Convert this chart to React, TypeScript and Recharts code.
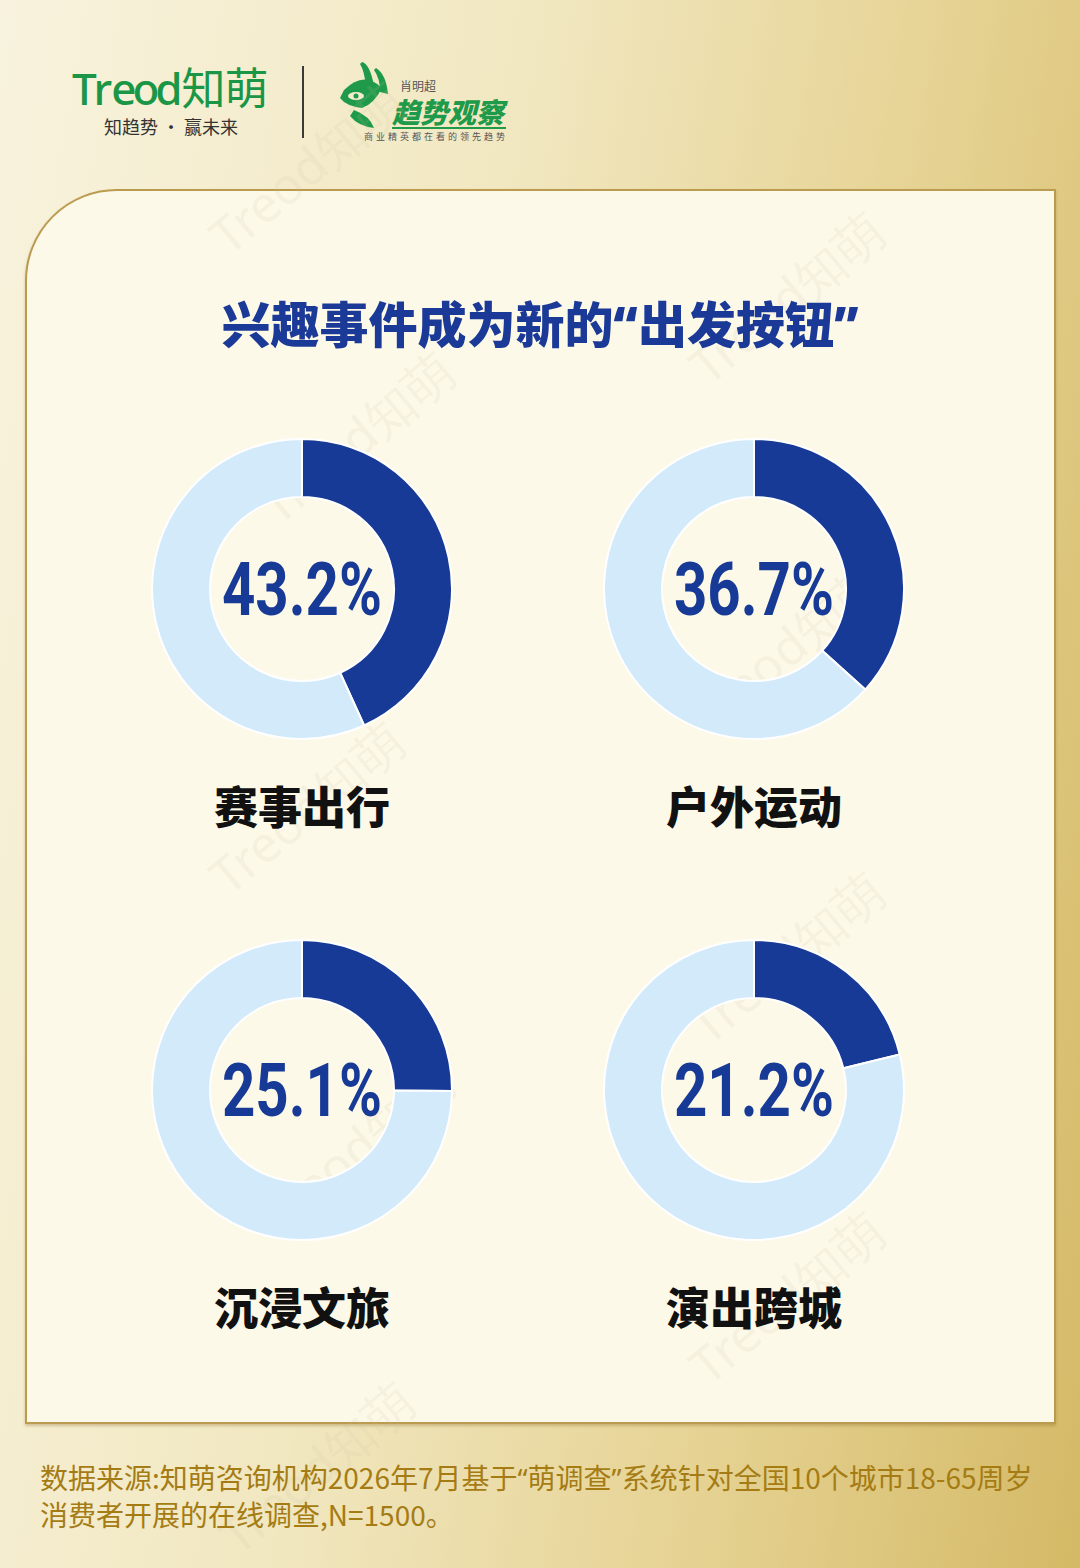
import React from "react"
import { PieChart, Pie, Cell, Label } from "recharts"

// data
const categories = ["赛事出行", "户外运动", "沉浸文旅", "演出跨城"]
const shares = [43.2, 36.7, 25.1, 21.2]
const sliceNames = ["选择", "其他"]

const titleParts = ["兴趣事件成为新的", "出发按钮"]
const sourceLines = [
  ["数据来源:知萌咨询机构2026年7月基于", "萌调查", "系统针对全国10个城市18-65周岁"],
  ["消费者开展的在线调查,N=1500。"],
]

const DARK = "#173a97"
const LIGHT = "#d3eafb"
const CJK = "'Noto Sans CJK SC', 'Noto Sans', sans-serif"
const LATIN = "'Noto Sans', 'DejaVu Sans', sans-serif"

const centers = [
  { x: 302, y: 589 },
  { x: 754, y: 589 },
  { x: 302, y: 1090 },
  { x: 754, y: 1090 },
]

const watermarks = [
  { x: 240, y: 200 },
  { x: 720, y: 330 },
  { x: 290, y: 470 },
  { x: 720, y: 680 },
  { x: 240, y: 840 },
  { x: 720, y: 990 },
  { x: 290, y: 1180 },
  { x: 720, y: 1330 },
  { x: 250, y: 1500 },
]

function Donut({ name, value, cx, cy }: { name: string; value: number; cx: number; cy: number }) {
  const size = 320
  const data = [
    { name: sliceNames[0], value },
    { name: sliceNames[1], value: 100 - value },
  ]
  return (
    <>
      <div style={{ position: "absolute", left: cx - size / 2, top: cy - size / 2, width: size, height: size }}>
        <PieChart width={size} height={size}>
          <Pie
            data={data}
            dataKey="value"
            cx="50%"
            cy="50%"
            innerRadius={92}
            outerRadius={150}
            startAngle={90}
            endAngle={-270}
            stroke="#ffffff"
            strokeWidth={2}
            isAnimationActive={false}
          >
            <Cell fill={DARK} />
            <Cell fill={LIGHT} />
            <Label
              position="center"
              content={() => (
                <text
                  x={size / 2}
                  y={size / 2 + 26}
                  textAnchor="middle"
                  textLength={160}
                  lengthAdjust="spacingAndGlyphs"
                  fill={DARK}
                  fontFamily="Roboto, 'DejaVu Sans', sans-serif"
                  fontWeight={700}
                  fontSize={74}
                >
                  {value.toFixed(1)}%
                </text>
              )}
            />
          </Pie>
        </PieChart>
      </div>
      <div
        style={{
          position: "absolute",
          left: cx - 150,
          width: 300,
          top: cy + 189,
          textAlign: "center",
          fontFamily: CJK,
          fontWeight: 900,
          fontSize: 44,
          lineHeight: "54px",
          color: "#111111",
        }}
      >
        {name}
      </div>
    </>
  )
}

export default function App() {
  return (
    <div
      style={{
        position: "absolute",
        left: 0,
        top: 0,
        width: 1080,
        height: 1568,
        overflow: "hidden",
        background: "linear-gradient(100deg, #f8f3de 0%, #f1e7c0 40%, #e6d394 70%, #d4b966 100%)",
        fontFamily: CJK,
      }}
    >
      {/* header logos */}
      <div style={{ position: "absolute", left: 72, top: 62, fontFamily: LATIN, fontSize: 44, fontWeight: 500, color: "#1a9646", letterSpacing: -1, lineHeight: "48px" }}>
        Tr<span style={{ letterSpacing: -4 }}>eo</span>d<span style={{ fontFamily: CJK, fontWeight: 400 }}>知萌</span>
      </div>
      <div style={{ position: "absolute", left: 104, top: 115, fontSize: 18, color: "#333", lineHeight: "22px" }}>
        知趋势 · 赢未来
      </div>
      <div style={{ position: "absolute", left: 302, top: 66, width: 2, height: 72, background: "#3a3a3a" }} />
      <svg style={{ position: "absolute", left: 334, top: 60 }} width={60} height={70}>
        <path d="M10 30 Q30 10 48 28 Q40 44 28 48 Q12 46 6 38 Z" fill="#1f9a4a" />
        <path d="M28 2 Q36 4 40 26 L32 26 Q30 10 26 4 Z" fill="#1f9a4a" />
        <path d="M42 8 Q52 14 54 34 L46 32 Q46 18 40 10 Z" fill="#1f9a4a" />
        <path d="M20 50 Q36 56 40 68 Q24 66 16 56 Z" fill="#1f9a4a" />
        <ellipse cx={22} cy={36} rx={8} ry={4} fill="#f4ecd0" />
        <circle cx={22} cy={36} r={2.5} fill="#1f9a4a" />
      </svg>
      <div style={{ position: "absolute", left: 400, top: 79, fontSize: 12, color: "#555", lineHeight: "14px" }}>肖明超</div>
      <div style={{ position: "absolute", left: 392, top: 96, fontSize: 28, fontWeight: 900, color: "#1f9a4a", lineHeight: "30px", fontStyle: "italic" }}>
        趋势观察
      </div>
      <div style={{ position: "absolute", left: 392, top: 127, width: 114, height: 1.5, background: "#1f9a4a" }} />
      <div style={{ position: "absolute", left: 364, top: 131, fontSize: 9, color: "#555", letterSpacing: 3, lineHeight: "11px" }}>
        商业精英都在看的领先趋势
      </div>

      {/* card */}
      <div
        style={{
          position: "absolute",
          left: 25,
          top: 189,
          width: 1027,
          height: 1231,
          background: "#fdf9e8",
          border: "2px solid #bb9b4f",
          borderTopLeftRadius: 92,
          boxShadow: "0 2px 3px rgba(140,110,40,0.35)",
        }}
      />

      {/* watermarks */}
      {watermarks.map((w, i) => (
        <div
          key={i}
          style={{
            position: "absolute",
            left: w.x,
            top: w.y,
            fontFamily: LATIN,
            fontSize: 50,
            color: "rgba(200,190,160,0.13)",
            transform: "rotate(-40deg)",
            transformOrigin: "left bottom",
            whiteSpace: "nowrap",
          }}
        >
          Treod知萌
        </div>
      ))}

      <div
        style={{
          position: "absolute",
          left: 0,
          width: 1080,
          top: 290,
          textAlign: "center",
          fontSize: 49,
          fontWeight: 900,
          color: "#1b3a98",
          lineHeight: "64px",
        }}
      >
        {titleParts[0]}
        <span style={{ fontFamily: LATIN }}>“</span>
        {titleParts[1]}
        <span style={{ fontFamily: LATIN }}>”</span>
      </div>

      {categories.map((c, i) => (
        <Donut key={c} name={c} value={shares[i]} cx={centers[i].x} cy={centers[i].y} />
      ))}

      <div style={{ position: "absolute", left: 40, top: 1459, fontSize: 28, color: "#a57c14", lineHeight: "36px", whiteSpace: "nowrap" }}>
        <div>
          {sourceLines[0][0]}
          <span style={{ fontFamily: LATIN }}>“</span>
          {sourceLines[0][1]}
          <span style={{ fontFamily: LATIN }}>”</span>
          {sourceLines[0][2]}
        </div>
        <div>{sourceLines[1][0]}</div>
      </div>
    </div>
  )
}
